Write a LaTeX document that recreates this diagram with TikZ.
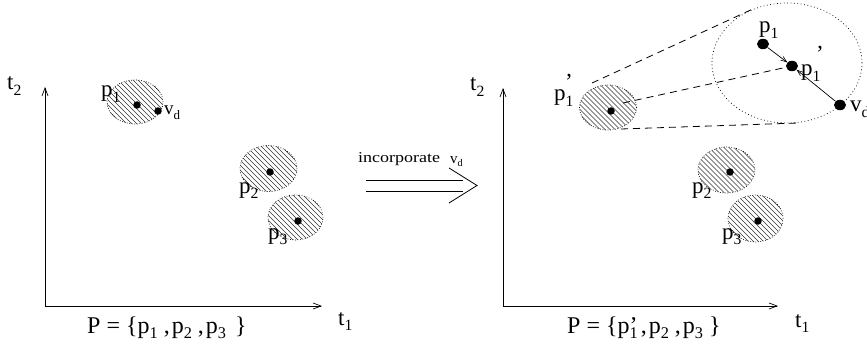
\documentclass[tikz,border=0pt]{standalone}
\usepackage{fontspec}
\setmainfont{Liberation Serif}
\usetikzlibrary{shapes.geometric,arrows.meta}
\newcommand\sbs[1]{\raisebox{-0.24em}{\scalebox{0.68}{#1}}}
\newcommand\lfont{\fontsize{23}{23}\selectfont}
\newcommand\ffont{\fontsize{24}{24}\selectfont}
\newcommand\sfont{\fontsize{15}{15}\selectfont}
% hatched region: #1 centre, #2 rx, #3 ry
\newcommand\hatchfill[3]{%
  \begin{scope}[shift={#1}]
    \clip (0,0) ellipse ({#2} and {#3});
    \foreach \i in {-95,-90,...,95} \draw[hatchline] (\i-40,-40) -- (\i+40,40);
  \end{scope}}
\begin{document}
\begin{tikzpicture}[x=1pt,y=-1pt,
  lab/.style={inner sep=0pt, anchor=base west, font=\lfont},
  hatchline/.style={line width=0.45pt, black!80},
  hatchell/.style={ellipse, draw, line width=0.7pt, dash pattern=on 0.7pt off 1.8pt, inner sep=0pt},
  dot/.style={circle, fill=black, inner sep=0pt, minimum size=7.5pt},
  bigdot/.style={ellipse, fill=black, inner sep=0pt, minimum width=12pt, minimum height=10.5pt},
  axarrow/.style={line width=0.8pt, -{Straight Barb[length=8pt,width=6pt,line width=0.7pt]}},
  cone/.style={line width=0.8pt, dash pattern=on 7pt off 5pt},
  vec/.style={line width=0.7pt, -{Straight Barb[length=6pt,width=4.5pt,line width=0.6pt]}},
  dbl/.style={line width=0.8pt}
]
\useasboundingbox (0,0) rectangle (867,350);

% ---------- left panel ----------
\coordinate (o1) at (45,306);
\coordinate (ya) at (45,87);
\coordinate (xa) at (322,306);
\draw[axarrow] (o1) -- (ya);
\draw[axarrow] (o1) -- (xa);
\node[lab] (t2a) at (7,90) {t\sbs{2}};
\node[lab] (t1a) at (338,325) {t\sbs{1}};

\hatchfill{(135,102)}{28}{22}
\hatchfill{(268.5,168.5)}{28.5}{23}
\hatchfill{(295.5,217.5)}{27.5}{22.5}
\node[hatchell, minimum width=56pt, minimum height=44pt] (e1) at (135,102) {};
\node[hatchell, minimum width=57pt, minimum height=46pt] (e2) at (268.5,168.5) {};
\node[hatchell, minimum width=55pt, minimum height=45pt] (e3) at (295.5,217.5) {};
\node[dot] (d1) at (137,105) {};
\node[dot] (dv) at (158,111) {};
\node[dot] (d2) at (270,172) {};
\node[dot] (d3) at (298,221) {};
\node[lab] (lp1) at (101,97) {p\sbs{1}};
\node[lab, font=\fontsize{19}{19}\selectfont] (lvd) at (164,115) {v\sbs{d}};
\node[lab] (lp2) at (239,193) {p\sbs{2}};
\node[lab] (lp3) at (268,239) {p\sbs{3}};
\node[lab, font=\ffont] (fa) at (87,333)
  {P = \{p\sbs{1}\hspace{6pt},\hspace{2pt}p\sbs{2}\hspace{6pt},\hspace{2pt}p\sbs{3}\hspace{9pt}\}};

% ---------- transition arrow ----------
\coordinate (da1) at (366,180); \coordinate (db1) at (463,180);
\coordinate (da2) at (366,191); \coordinate (db2) at (463,191);
\coordinate (arm1) at (449,168); \coordinate (tip) at (477,185.5); \coordinate (arm2) at (449,203);
\draw[dbl] (da1) -- (db1);
\draw[dbl] (da2) -- (db2);
\draw[dbl] (arm1) -- (tip) -- (arm2);
\node[lab, font=\sfont] (inc) at (358,162) {\scalebox{1.2}[1]{incorporate}};
\node[lab, font=\sfont] (ivd) at (450,163) {v\sbs{d}};

% ---------- right panel ----------
\coordinate (o2) at (503,306);
\coordinate (yb) at (503,88);
\coordinate (xb) at (778,306);
\draw[axarrow] (o2) -- (yb);
\draw[axarrow] (o2) -- (xb);
\node[lab] (t2b) at (470,91) {t\sbs{2}};
\node[lab] (t1b) at (795,327) {t\sbs{1}};

\hatchfill{(608,107.5)}{28.5}{22.5}
\hatchfill{(726.5,170)}{28.5}{23}
\hatchfill{(755.5,218.5)}{27.5}{23.5}
\node[hatchell, minimum width=57pt, minimum height=45pt] (f1) at (608,107.5) {};
\node[hatchell, minimum width=57pt, minimum height=46pt] (f2) at (726.5,170) {};
\node[hatchell, minimum width=55pt, minimum height=47pt] (f3) at (755.5,218.5) {};
\node[dot] (g1) at (611,111) {};
\node[dot] (g2) at (730,172) {};
\node[dot] (g3) at (758,221) {};
\node[lab] (lq1) at (554,101) {p\sbs{1}};
\node[lab] (lq1p) at (565,90) {’};
\node[lab] (lq2) at (692,193) {p\sbs{2}};
\node[lab] (lq3) at (722,239) {p\sbs{3}};
\node[lab, font=\ffont] (fb) at (567,333)
  {P = \{p\makebox[0pt][l]{’}\sbs{1}\hspace{3pt},\hspace{2pt}p\sbs{2}\hspace{6pt},\hspace{2pt}p\sbs{3}\hspace{6pt}\}};

% zoomed view
\node[ellipse, draw, line width=0.7pt, dash pattern=on 0.8pt off 2.6pt,
      minimum width=150pt, minimum height=120pt, inner sep=0pt] (big) at (787,63) {};
\coordinate (ct1) at (592,83); \coordinate (ct2) at (755,8);
\coordinate (cm1) at (623,103);
\coordinate (cb1) at (621,129); \coordinate (cb2) at (798,123);
\node[bigdot] (bp1) at (763,44) {};
\node[bigdot] (bp1p) at (792,66) {};
\node[bigdot] (bvd) at (840,105) {};
\draw[cone] (ct1) -- (ct2);
\draw[cone] (cm1) -- (bp1p);
\draw[cone] (cb1) -- (cb2);
\draw[vec] (bp1) -- (bp1p);
\draw[vec] (bvd) -- (bp1p);
\node[lab] (lb1) at (759,33) {p\sbs{1}};
\node[lab] (lb1p) at (801,76) {p\sbs{1}};
\node[lab] (lb1pp) at (816,62) {’};
\node[lab] (lbvd) at (850,112) {v\sbs{d}};
\end{tikzpicture}
\end{document}
